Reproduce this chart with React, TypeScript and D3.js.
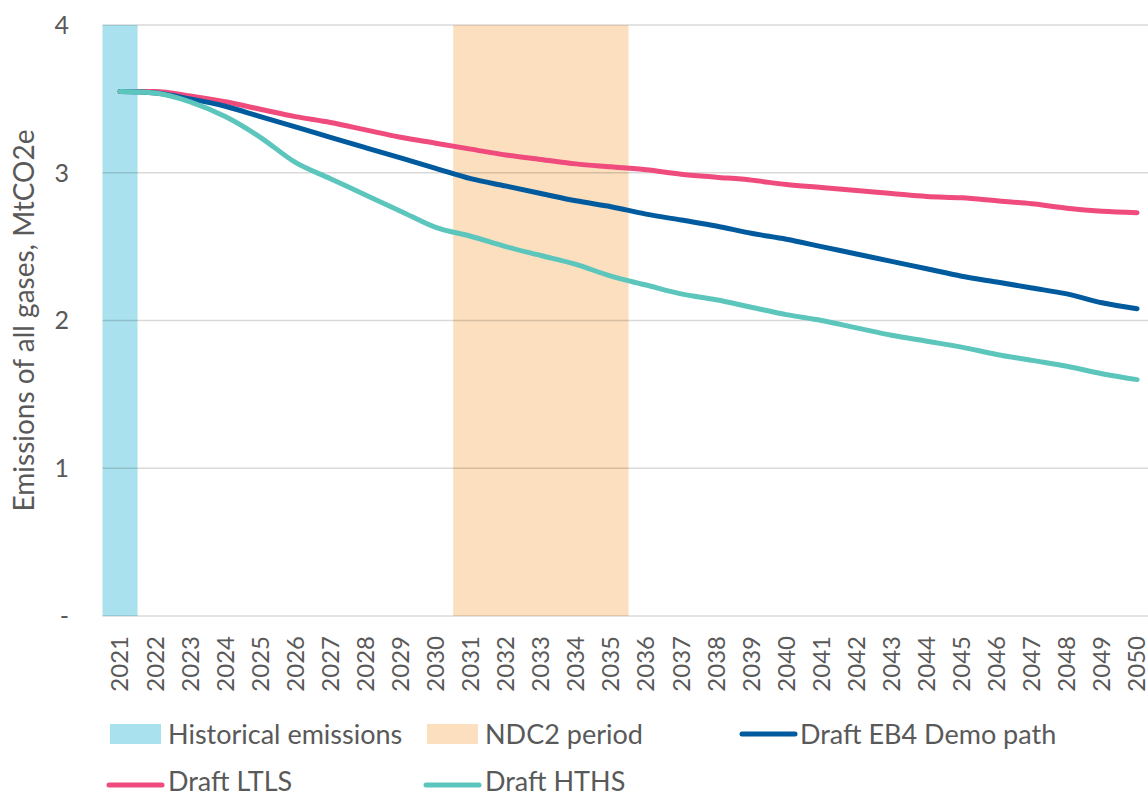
import React from "react";
import * as d3 from "d3";

const years = d3.range(2021, 2051).map(String);
const ltls = [3.55, 3.55, 3.52, 3.48, 3.43, 3.38, 3.34, 3.29, 3.24, 3.20, 3.16, 3.12, 3.09, 3.06, 3.04, 3.02, 2.99, 2.97, 2.95, 2.92, 2.90, 2.88, 2.86, 2.84, 2.83, 2.81, 2.79, 2.76, 2.74, 2.73];
const eb4 = [3.55, 3.54, 3.50, 3.45, 3.38, 3.31, 3.24, 3.17, 3.10, 3.03, 2.96, 2.91, 2.86, 2.81, 2.77, 2.72, 2.68, 2.64, 2.59, 2.55, 2.50, 2.45, 2.40, 2.35, 2.30, 2.26, 2.22, 2.18, 2.12, 2.08];
const hths = [3.55, 3.54, 3.48, 3.38, 3.24, 3.07, 2.96, 2.85, 2.74, 2.63, 2.57, 2.50, 2.44, 2.38, 2.30, 2.24, 2.18, 2.14, 2.09, 2.04, 2.00, 1.95, 1.90, 1.86, 1.82, 1.77, 1.73, 1.69, 1.64, 1.60];
const historicalYears = ["2021"];
const ndcYears = ["2031", "2032", "2033", "2034", "2035"];
const yTicks = [0, 1, 2, 3, 4];
const yTickLabels = ["-", "1", "2", "3", "4"];

const W = 1148, H = 796;
const FONT = "Lato, 'Open Sans', sans-serif";
const TXT = "#595959";

export default function App() {
  const x = d3.scaleBand().domain(years).range([102.5, 1154.6]).padding(0);
  const y = d3.scaleLinear().domain([0, 4]).range([616, 25]);
  const bw = x.bandwidth();
  const cx = (d: string) => (x(d) as number) + bw / 2;
  const line = d3.line<number>().x((_, i) => cx(years[i])).y(v => y(v)).curve(d3.curveMonotoneX);

  const series = [
    { data: ltls, color: "#EF4B7C" },
    { data: eb4, color: "#005A9E" },
    { data: hths, color: "#5CC6BD" },
  ];
  const bandRect = (ys: string[], color: string) => {
    const x0 = x(ys[0]) as number;
    const x1 = (x(ys[ys.length - 1]) as number) + bw;
    return <rect x={x0} y={y(4)} width={x1 - x0} height={y(0) - y(4)} fill={color} />;
  };

  return (
    <svg width={W} height={H} style={{ position: "absolute", left: 0, top: 0, background: "#fff" }} fontFamily={FONT}>
      {bandRect(historicalYears, "#A9E2EE")}
      {bandRect(ndcYears, "#FBDFBE")}
      {yTicks.map(t => (
        <line key={t} x1={102.5} x2={W} y1={y(t)} y2={y(t)} stroke="#000" strokeOpacity={0.15} strokeWidth={1.5} />
      ))}
      {yTicks.map((t, i) => (
        <text key={"yl" + t} x={69} y={y(t)} dy="0.35em" textAnchor="end" fontSize={25} fill={TXT}>{yTickLabels[i]}</text>
      ))}
      <text transform={`translate(34,${y(2)}) rotate(-90)`} textAnchor="middle" fontSize={28} fill={TXT}>Emissions of all gases, MtCO2e</text>
      {years.map(yr => (
        <text key={yr} transform={`translate(${cx(yr)},${636}) rotate(-90)`} dy="0.35em" textAnchor="end" fontSize={24} fill={TXT}>{yr}</text>
      ))}
      {series.map((s, i) => (
        <path key={i} d={line(s.data) as string} fill="none" stroke={s.color} strokeWidth={5} strokeLinecap="round" strokeLinejoin="round" />
      ))}
      {/* Legend */}
      <g fontSize={27} fill={TXT}>
        <rect x={110} y={724} width={51} height={20} fill="#A9E2EE" />
        <text x={168} y={744}>Historical emissions</text>
        <rect x={427} y={724} width={51} height={20} fill="#FBDFBE" />
        <text x={485} y={744}>NDC2 period</text>
        <line x1={742} x2={795} y1={734} y2={734} stroke="#005A9E" strokeWidth={5} strokeLinecap="round" />
        <text x={800} y={744}>Draft EB4 Demo path</text>
        <line x1={109} x2={162} y1={785} y2={785} stroke="#EF4B7C" strokeWidth={5} strokeLinecap="round" />
        <text x={168} y={791}>Draft LTLS</text>
        <line x1={426} x2={479} y1={785} y2={785} stroke="#5CC6BD" strokeWidth={5} strokeLinecap="round" />
        <text x={485} y={791}>Draft HTHS</text>
      </g>
    </svg>
  );
}
